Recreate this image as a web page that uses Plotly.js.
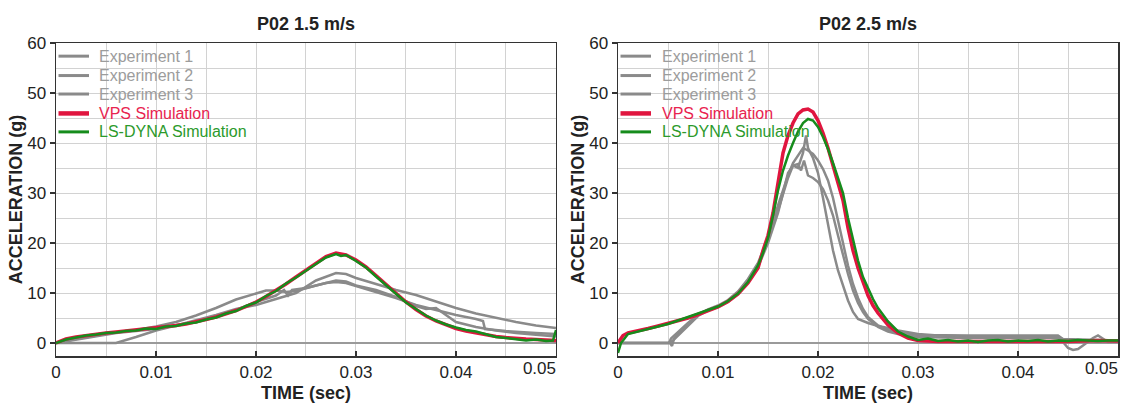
<!DOCTYPE html>
<html>
<head>
<meta charset="utf-8">
<script src="https://cdn.plot.ly/plotly-3.0.1.min.js"></script>
<style>
html,body{margin:0;padding:0;background:#fff;}
#chart{width:1121px;height:403px;}
</style>
</head>
<body>
<div id="chart"></div>
<script>
// ---------- DATA ----------
const panelTitles = ['P02 1.5 m/s', 'P02 2.5 m/s'];
const seriesNames = ['Experiment 1', 'Experiment 2', 'Experiment 3', 'VPS Simulation', 'LS-DYNA Simulation'];
const xTickVals = [0, 0.01, 0.02, 0.03, 0.04, 0.05];
const xTickText = ['0', '0.01', '0.02', '0.03', '0.04', '0.05'];
const yTickVals = [0, 10, 20, 30, 40, 50, 60];
const yTickText = ['0', '10', '20', '30', '40', '50', '60'];
const xTitle = 'TIME (sec)';
const yTitle = 'ACCELERATION (g)';

// Left panel: 1.5 m/s
const L_exp1_t = [0,0.002,0.005,0.008,0.01,0.012,0.014,0.016,0.018,0.02,0.021,0.022,0.023,0.024,0.025,0.026,0.027,0.028,0.029,0.03,0.032,0.034,0.036,0.038,0.04,0.042,0.0427,0.0429,0.045,0.048,0.05];
const L_exp1_a = [0,0.8,1.8,2.6,3.3,4.2,5.5,7.0,8.7,10.0,10.5,10.5,10.2,10.4,11.0,11.5,12.0,12.2,12.0,11.4,10.3,9.0,7.6,6.6,5.6,4.8,4.4,2.8,2.4,2.0,1.8];
const L_exp2_t = [0,0.006,0.008,0.01,0.012,0.014,0.016,0.018,0.02,0.022,0.024,0.026,0.028,0.029,0.03,0.032,0.034,0.036,0.038,0.04,0.042,0.044,0.046,0.048,0.05];
const L_exp2_a = [0,0,1.2,2.5,3.5,4.5,5.6,6.8,7.6,8.8,10.0,12.5,14.0,13.8,13.0,11.8,10.6,9.6,8.3,7.0,5.9,5.0,4.2,3.5,3.0];
const L_exp3_t = [0,0.003,0.006,0.01,0.012,0.014,0.016,0.018,0.02,0.022,0.0228,0.0232,0.0236,0.025,0.027,0.028,0.029,0.03,0.032,0.034,0.036,0.037,0.038,0.04,0.042,0.044,0.046,0.048,0.05];
const L_exp3_a = [0,1.0,2.0,2.8,3.5,4.3,5.3,6.6,8.2,9.5,10.6,9.5,10.6,11.0,12.0,12.5,12.3,11.5,10.6,9.2,7.4,6.8,7.0,4.2,3.2,2.5,2.0,1.6,1.3];
const L_vps_t = [0,0.001,0.002,0.003,0.004,0.005,0.006,0.007,0.008,0.009,0.01,0.011,0.012,0.013,0.014,0.015,0.016,0.017,0.018,0.019,0.02,0.021,0.022,0.023,0.024,0.025,0.026,0.027,0.028,0.029,0.03,0.031,0.032,0.033,0.034,0.035,0.036,0.037,0.038,0.039,0.04,0.041,0.042,0.043,0.044,0.045,0.046,0.047,0.048,0.049,0.05];
const L_vps_a = [0,0.8,1.2,1.5,1.8,2.0,2.2,2.4,2.6,2.8,3.0,3.2,3.5,3.8,4.2,4.7,5.2,5.8,6.5,7.3,8.2,9.3,10.5,11.8,13.2,14.6,16.0,17.3,18.0,17.6,16.6,15.2,13.5,11.7,9.9,8.2,6.7,5.4,4.4,3.6,2.9,2.4,2.0,1.6,1.3,1.1,0.9,0.8,0.7,0.6,0.5];
const L_dyna_t = [0,0.001,0.002,0.003,0.004,0.005,0.006,0.007,0.008,0.009,0.01,0.011,0.012,0.013,0.014,0.015,0.016,0.017,0.018,0.019,0.02,0.021,0.022,0.023,0.024,0.025,0.026,0.027,0.028,0.0285,0.029,0.03,0.031,0.032,0.033,0.034,0.035,0.036,0.037,0.038,0.039,0.04,0.041,0.042,0.043,0.044,0.045,0.046,0.047,0.048,0.049,0.0497,0.05];
const L_dyna_a = [0,0.7,1.1,1.5,1.7,2.0,2.1,2.4,2.5,2.9,2.8,3.3,3.4,3.9,4.1,4.7,5.1,5.9,6.4,7.4,8.1,9.4,10.4,11.9,13.1,14.5,15.8,17.1,17.8,17.4,17.6,16.4,15.1,13.3,11.6,9.8,8.1,6.8,5.5,4.5,3.7,3.1,2.6,2.3,1.7,1.2,1.0,0.8,0.5,0.7,0.4,0.5,2.6];

// Right panel: 2.5 m/s
const R_exp1_t = [0,0.0052,0.0054,0.0056,0.006,0.007,0.008,0.009,0.01,0.011,0.012,0.013,0.014,0.015,0.016,0.017,0.0175,0.018,0.0185,0.0188,0.019,0.0195,0.02,0.0205,0.021,0.0215,0.022,0.0225,0.023,0.0235,0.024,0.025,0.026,0.027,0.028,0.03,0.032,0.035,0.04,0.044,0.0445,0.047,0.05];
const R_exp1_a = [0,0,-0.6,0.8,1.8,3.8,5.6,6.6,7.3,8.4,10.0,12.4,15.6,20.5,26.5,33.0,35.5,35.0,38.0,41.5,39.0,37.0,34.0,29.0,23.5,18.5,14.5,11.5,8.5,6.2,4.8,4.0,3.4,3.0,2.5,1.8,1.5,1.3,1.2,1.3,0.7,0.5,0.4];
const R_exp2_t = [0,0.0051,0.0053,0.006,0.007,0.008,0.009,0.01,0.011,0.012,0.013,0.014,0.015,0.016,0.017,0.0175,0.018,0.0185,0.019,0.0195,0.02,0.0205,0.021,0.0215,0.022,0.0225,0.023,0.0235,0.024,0.0245,0.025,0.026,0.027,0.028,0.03,0.035,0.04,0.044,0.0445,0.047,0.05];
const R_exp2_a = [0,0,0.9,2.2,4.0,5.7,6.7,7.5,8.6,10.3,12.8,16.0,21.0,27.5,33.5,36.0,37.5,39.0,38.5,37.8,36.5,34.8,32.5,29.0,24.5,20.0,15.5,11.8,9.0,6.8,5.2,3.5,2.6,2.1,1.6,1.5,1.5,1.5,0.8,0.6,0.5];
const R_exp3_t = [0,0.005,0.0055,0.006,0.007,0.008,0.009,0.01,0.011,0.012,0.013,0.014,0.015,0.016,0.0165,0.017,0.0175,0.018,0.0183,0.0186,0.019,0.0195,0.02,0.0205,0.021,0.0215,0.022,0.0225,0.023,0.0235,0.024,0.0245,0.025,0.026,0.027,0.028,0.03,0.035,0.04,0.044,0.0445,0.045,0.0455,0.046,0.0465,0.047,0.0475,0.048,0.0485,0.049,0.05];
const R_exp3_a = [0,0,0.5,1.5,3.5,5.4,6.5,7.2,8.2,9.8,12.1,15.2,20.0,26.0,30.0,34.0,35.5,35.8,34.5,36.5,33.5,33.0,32.2,30.8,28.5,25.5,21.5,17.5,13.8,10.5,8.0,6.2,4.8,3.2,2.3,1.8,1.2,1.0,1.0,1.0,0.2,-1.0,-1.4,-1.2,-0.5,0.3,1.0,1.5,0.8,0.2,0.3];
const R_vps_t = [0,0.0005,0.001,0.002,0.003,0.004,0.005,0.006,0.007,0.008,0.009,0.01,0.011,0.012,0.013,0.014,0.0145,0.015,0.0155,0.016,0.0165,0.017,0.0175,0.018,0.0185,0.019,0.0195,0.02,0.0205,0.021,0.0215,0.022,0.0225,0.023,0.0235,0.024,0.0245,0.025,0.0255,0.026,0.027,0.028,0.029,0.03,0.032,0.035,0.038,0.04,0.045,0.048,0.05];
const R_vps_a = [0,1.5,2.0,2.4,2.9,3.4,3.9,4.4,5.0,5.7,6.4,7.2,8.3,9.8,12.0,15.0,18.5,21.5,26.0,32.5,38.0,41.5,44.0,45.8,46.6,46.8,46.2,44.5,42.0,39.0,35.5,32.0,28.5,23.0,18.5,15.0,12.0,9.5,7.5,6.0,3.6,2.0,1.0,0.5,0.3,0.3,0.2,0.3,0.3,0.5,0.4];
const R_dyna_t = [0,0.0003,0.001,0.002,0.003,0.004,0.005,0.006,0.007,0.008,0.009,0.01,0.011,0.012,0.013,0.014,0.0145,0.015,0.0155,0.016,0.0165,0.017,0.0175,0.018,0.0185,0.019,0.0195,0.02,0.0205,0.021,0.0215,0.022,0.0225,0.023,0.0235,0.024,0.0245,0.025,0.0255,0.026,0.027,0.028,0.029,0.03,0.031,0.032,0.033,0.034,0.035,0.036,0.037,0.038,0.039,0.04,0.041,0.042,0.043,0.044,0.045,0.046,0.047,0.048,0.049,0.05];
const R_dyna_a = [-2.0,0,1.8,2.3,2.8,3.3,3.8,4.5,5.2,5.8,6.5,7.3,8.4,9.9,12.2,15.5,18.0,21.0,25.5,30.5,34.5,37.5,40.0,42.3,44.0,44.8,44.5,43.2,41.2,38.8,36.0,33.0,30.0,25.0,20.5,16.5,13.2,11.0,8.8,7.0,4.3,2.3,1.3,0.6,0.9,0.4,0.6,0.3,0.5,0.2,0.5,0.6,0.3,0.5,0.4,0.6,0.3,0.5,0.4,0.6,0.5,0.4,0.5,0.5];

// ---------- STYLE ----------
const FONT = 'Arial, "Liberation Sans", sans-serif';
const lineColors = ['#8a8a8a', '#8a8a8a', '#8a8a8a', '#e0153f', '#168c1c'];
const lineWidths = [2.5, 2.5, 2.5, 3.5, 2.5];
const textColors = ['#9c9c9c', '#9c9c9c', '#9c9c9c', '#e8244f', '#2c9a2c'];
const keyWidths = [3, 3, 3, 4.5, 3];
// legend rows, as fractions of the plot height measured from the bottom
const keyRowY = [0.958, 0.896, 0.837, 0.775, 0.716];

const panels = [
  {xs: [L_exp1_t, L_exp2_t, L_exp3_t, L_vps_t, L_dyna_t], ys: [L_exp1_a, L_exp2_a, L_exp3_a, L_vps_a, L_dyna_a]},
  {xs: [R_exp1_t, R_exp2_t, R_exp3_t, R_vps_t, R_dyna_t], ys: [R_exp1_a, R_exp2_a, R_exp3_a, R_vps_a, R_dyna_a]}
];
const axX = ['x', 'x2'], axY = ['y', 'y2'];

const traces = [];
panels.forEach((p, pi) => {
  for (let i = 0; i < seriesNames.length; i++) {
    traces.push({
      type: 'scatter', mode: 'lines',
      x: p.xs[i], y: p.ys[i],
      xaxis: axX[pi], yaxis: axY[pi],
      name: seriesNames[i], showlegend: false,
      line: {color: lineColors[i], width: lineWidths[i]},
      hoverinfo: 'skip'
    });
  }
});
// empty carriers for the overlay axes that hold the right-aligned last x label
traces.push({type: 'scatter', mode: 'lines', x: [], y: [], xaxis: 'x3', yaxis: 'y', showlegend: false, hoverinfo: 'skip'});
traces.push({type: 'scatter', mode: 'lines', x: [], y: [], xaxis: 'x4', yaxis: 'y2', showlegend: false, hoverinfo: 'skip'});

const tickFont = {family: FONT, size: 17, color: '#222'};
const gridCol = '#d2d2d2';

function xAxis(domain, anchor) {
  return {
    domain: domain, anchor: anchor, range: [0, 0.05], fixedrange: true,
    tickmode: 'array', tickvals: xTickVals.slice(0, -1), ticktext: xTickText.slice(0, -1),
    ticks: 'inside', ticklen: 5, tickwidth: 1.5, tickcolor: '#333',
    tickfont: tickFont,
    showgrid: true, gridcolor: gridCol, gridwidth: 1,
    minor: {tickmode: 'linear', tick0: 0, dtick: 0.005, showgrid: true, gridcolor: gridCol, gridwidth: 1, ticks: ''},
    showline: true, mirror: true, linecolor: '#333', linewidth: 1.5,
    zeroline: false,
    title: {text: '<b>' + xTitle + '</b>', font: {family: FONT, size: 18, color: '#222'}, standoff: 6}
  };
}
function xOverlay(over, anchor) {
  return {
    overlaying: over, anchor: anchor, side: 'bottom', range: [0, 0.05], fixedrange: true,
    tickmode: 'array', tickvals: xTickVals.slice(-1), ticktext: xTickText.slice(-1),
    ticklabelposition: 'outside left', ticks: '', tickfont: tickFont,
    showgrid: false, showline: false, zeroline: false
  };
}
function yAxis(anchor) {
  return {
    anchor: anchor, range: [-2.6, 60], fixedrange: true,
    tickmode: 'array', tickvals: yTickVals, ticktext: yTickText,
    ticks: 'outside', ticklen: 5, tickwidth: 1.5, tickcolor: '#333',
    tickfont: tickFont,
    showgrid: true, gridcolor: gridCol, gridwidth: 1,
    minor: {tickmode: 'linear', tick0: 0, dtick: 5, showgrid: true, gridcolor: gridCol, gridwidth: 1, ticks: ''},
    showline: true, mirror: true, linecolor: '#333', linewidth: 1.5,
    zeroline: true, zerolinecolor: '#9a9a9a', zerolinewidth: 1.5,
    title: {text: '<b>' + yTitle + '</b>', font: {family: FONT, size: 18, color: '#222'}, standoff: 0}
  };
}

const shapes = [], annotations = [];
for (let pi = 0; pi < 2; pi++) {
  annotations.push({
    text: '<b>' + panelTitles[pi] + '</b>', showarrow: false,
    xref: axX[pi] + ' domain', yref: axY[pi] + ' domain',
    x: 0.5, y: 1.06, xanchor: 'center', yanchor: 'middle',
    font: {family: FONT, size: 18, color: '#222'}
  });
  for (let i = 0; i < seriesNames.length; i++) {
    shapes.push({
      type: 'line', xref: axX[pi] + ' domain', yref: axY[pi] + ' domain',
      x0: 0.005, x1: 0.066, y0: keyRowY[i], y1: keyRowY[i],
      line: {color: lineColors[i], width: keyWidths[i]}
    });
    annotations.push({
      text: seriesNames[i], showarrow: false,
      xref: axX[pi] + ' domain', yref: axY[pi] + ' domain',
      x: 0.083, y: keyRowY[i], xanchor: 'left', yanchor: 'middle',
      font: {family: FONT, size: 16, color: textColors[i]}
    });
  }
}

const layout = {
  width: 1121, height: 403,
  margin: {l: 56, r: 3, t: 43, b: 47, pad: 0},
  paper_bgcolor: '#fff', plot_bgcolor: '#fff',
  font: {family: FONT, color: '#222'},
  showlegend: false,
  xaxis: xAxis([0, 0.4708], 'y'),
  yaxis: yAxis('x'),
  xaxis2: xAxis([0.5292, 1], 'y2'),
  yaxis2: yAxis('x2'),
  xaxis3: xOverlay('x', 'y'),
  xaxis4: xOverlay('x2', 'y2'),
  shapes: shapes,
  annotations: annotations
};

Plotly.newPlot('chart', traces, layout, {staticPlot: true, displayModeBar: false});
</script>
</body>
</html>
